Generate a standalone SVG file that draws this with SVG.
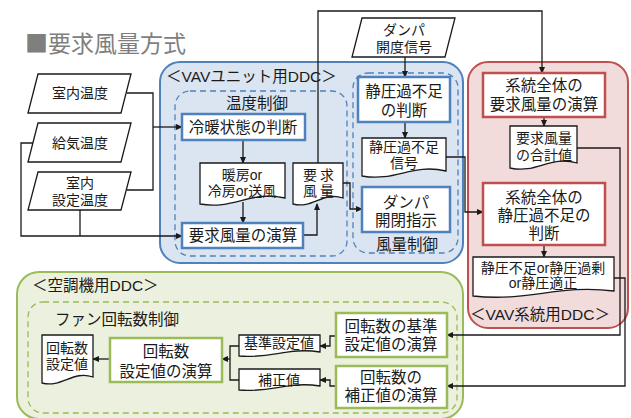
<svg xmlns="http://www.w3.org/2000/svg" width="631" height="418" viewBox="0 0 631 418">
<defs>
<marker id="ar" markerWidth="7" markerHeight="6" refX="6" refY="3" orient="auto" markerUnits="userSpaceOnUse"><path d="M0,0 L7,3 L0,6 Z" fill="#1a1a1a"/></marker>
<style>
text{font-family:"Liberation Sans","Noto Sans CJK JP",sans-serif;fill:#1a1a1a;text-anchor:middle}
.t{font-size:15.5px}
.s{font-size:14px}
.lab{font-size:15.5px;text-anchor:start}
.io{fill:#fff;stroke:#1a1a1a;stroke-width:1.3}
.bn{fill:#fff;stroke:#4f81bd;stroke-width:2.5}
.rn{fill:#fff;stroke:#c0504d;stroke-width:2.5}
.gn{fill:#fff;stroke:#9bbb59;stroke-width:2.5}
.c{fill:none;stroke:#1a1a1a;stroke-width:1.3}
.ca{fill:none;stroke:#1a1a1a;stroke-width:1.3;marker-end:url(#ar)}
</style>
</defs>
<rect width="631" height="418" fill="#fff"/>
<text x="25" y="52" style="font-family:'Noto Sans CJK JP',sans-serif;font-size:23px;text-anchor:start;fill:#7f7f7f">■要求風量方式</text>

<g id="vav-unit">
<rect x="160" y="62" width="303" height="201" rx="20" fill="#dbe5f1" stroke="#4f81bd" stroke-width="2"/>
<text x="166" y="82" class="lab">＜VAVユニット用DDC＞</text>
<rect x="175" y="91" width="172" height="165" rx="15" fill="none" stroke="#4f81bd" stroke-width="1.3" stroke-dasharray="6,4"/>
<text x="257" y="109" class="t">温度制御</text>
<rect x="353" y="73" width="105" height="180" rx="15" fill="none" stroke="#4f81bd" stroke-width="1.3" stroke-dasharray="6,4"/>
<text x="407" y="250" class="t">風量制御</text>
</g>

<g id="vav-system">
<rect x="468" y="62" width="160" height="266" rx="20" fill="#f2dcdb" stroke="#c0504d" stroke-width="2"/>
<text x="540" y="320" class="t">＜VAV系統用DDC＞</text>
</g>

<g id="ahu">
<rect x="17" y="272" width="446" height="147" rx="22" fill="#ebf1de" stroke="#9bbb59" stroke-width="2"/>
<text x="32" y="291" class="lab">＜空調機用DDC＞</text>
<rect x="28" y="302" width="429" height="111" rx="15" fill="none" stroke="#9bbb59" stroke-width="1.3" stroke-dasharray="6,4"/>
<text x="55" y="325" class="lab">ファン回転数制御</text>
</g>

<g id="connectors">
<path class="c" d="M127,93 H153 V190 H127"/>
<path class="ca" d="M153,127 H182"/>
<path class="ca" d="M33,143 H21 V236 H182"/>
<path class="c" d="M80,210 V236"/>
<path class="ca" d="M243,140 V163"/>
<path class="ca" d="M243,202 V223"/>
<path class="ca" d="M303,235 H317 V204"/>
<path class="ca" d="M318,163 V11 H542 V73"/>
<path class="ca" d="M343,183 H350 V209 H362"/>
<path class="ca" d="M405,57 V77"/>
<path class="ca" d="M405,122 V138"/>
<path class="ca" d="M446,157 H465 V212 H483"/>
<path class="ca" d="M544,117 V126"/>
<path class="ca" d="M577,148 H620 V335 H447"/>
<path class="ca" d="M544,245 V257"/>
<path class="ca" d="M614,278 H625 V386 H447"/>
<path class="ca" d="M336,336 H330 V346 H320"/>
<path class="ca" d="M336,386 H330 V380 H320"/>
<path class="c" d="M239,346 H230 V380 H239"/>
<path class="ca" d="M230,359 H222"/>
<path class="ca" d="M110,359 H93"/>
</g>

<g id="in-room-temp">
<polygon class="io" points="38,74 131,74 121,113 28,113"/>
<text x="80" y="98" class="s">室内温度</text>
</g>
<g id="in-supply-temp">
<polygon class="io" points="38,123 131,123 121,162 28,162"/>
<text x="80" y="148" class="s">給気温度</text>
</g>
<g id="in-set-temp">
<polygon class="io" points="38,172 131,172 121,210 28,210"/>
<text class="s"><tspan x="80" y="188">室内</tspan><tspan x="80" dy="17">設定温度</tspan></text>
</g>
<g id="in-damper">
<polygon class="io" points="362,18 455,18 445,57 352,57"/>
<text class="s"><tspan x="404" y="35">ダンパ</tspan><tspan x="404" dy="17">開度信号</tspan></text>
</g>

<g id="n-mode">
<rect class="bn" x="182" y="114" width="123" height="26"/>
<text x="243" y="133" class="t">冷暖状態の判断</text>
</g>
<g id="d-mode">
<path class="io" d="M200,163 H285 V198 C251,190 234,210 200,204 Z"/>
<text class="s"><tspan x="242" y="180">暖房or</tspan><tspan x="242" dy="16">冷房or送風</tspan></text>
</g>
<g id="n-req">
<rect class="bn" x="182" y="223" width="121" height="25"/>
<text x="243" y="241" class="t">要求風量の演算</text>
</g>
<g id="d-req">
<path class="io" d="M293,163 H343 V198 C323,191 313,209 293,204 Z"/>
<text class="s" letter-spacing="3"><tspan x="320" y="180">要求</tspan><tspan x="320" dy="16">風量</tspan></text>
</g>
<g id="n-static">
<rect class="bn" x="358" y="77" width="92" height="45"/>
<text class="t"><tspan x="404" y="97">静圧過不足</tspan><tspan x="404" dy="19">の判断</tspan></text>
</g>
<g id="d-static">
<path class="io" d="M362,138 H446 V171 C412,163 396,182 362,176 Z"/>
<text class="s"><tspan x="404" y="152">静圧過不足</tspan><tspan x="404" dy="16">信号</tspan></text>
</g>
<g id="n-damper">
<rect class="bn" x="362" y="187" width="88" height="45"/>
<text class="t"><tspan x="406" y="208">ダンパ</tspan><tspan x="406" dy="18">開閉指示</tspan></text>
</g>

<g id="n-sys-req">
<rect class="rn" x="483" y="73" width="122" height="44"/>
<text class="t"><tspan x="544" y="91">系統全体の</tspan><tspan x="544" dy="19">要求風量の演算</tspan></text>
</g>
<g id="d-sum">
<path class="io" d="M510,126 H577 V163 C550,155 537,174 510,168 Z"/>
<text class="s"><tspan x="544" y="143">要求風量</tspan><tspan x="544" dy="17">の合計値</tspan></text>
</g>
<g id="n-sys-static">
<rect class="rn" x="483" y="183" width="122" height="62"/>
<text class="t"><tspan x="544" y="203">系統全体の</tspan><tspan x="544" dy="18">静圧過不足の</tspan><tspan x="544" dy="18">判断</tspan></text>
</g>
<g id="d-state">
<path class="io" d="M473,257 H614 V291 C558,284 529,302 473,296 Z"/>
<text class="s"><tspan x="543" y="273">静圧不足or静圧過剰</tspan><tspan x="543" dy="15">or静圧適正</tspan></text>
</g>

<g id="d-rpm">
<path class="io" d="M42,335 H93 V377 C73,370 62,388 42,383 Z"/>
<text class="s"><tspan x="67" y="353">回転数</tspan><tspan x="67" dy="16">設定値</tspan></text>
</g>
<g id="n-rpm">
<rect class="gn" x="110" y="338" width="112" height="44"/>
<text class="t"><tspan x="166" y="357">回転数</tspan><tspan x="166" dy="20">設定値の演算</tspan></text>
</g>
<g id="d-base">
<path class="io" d="M239,335 H320 V352 C288,347 271,359 239,356 Z"/>
<text x="279" y="348" class="s">基準設定値</text>
</g>
<g id="d-corr">
<path class="io" d="M239,369 H320 V386 C288,381 271,393 239,390 Z"/>
<text x="279" y="385" class="s">補正値</text>
</g>
<g id="n-base">
<rect class="gn" x="336" y="313" width="111" height="44"/>
<text class="t"><tspan x="391" y="332">回転数の基準</tspan><tspan x="391" dy="18">設定値の演算</tspan></text>
</g>
<g id="n-corr">
<rect class="gn" x="336" y="366" width="111" height="42"/>
<text class="t"><tspan x="391" y="383">回転数の</tspan><tspan x="391" dy="18">補正値の演算</tspan></text>
</g>
</svg>
